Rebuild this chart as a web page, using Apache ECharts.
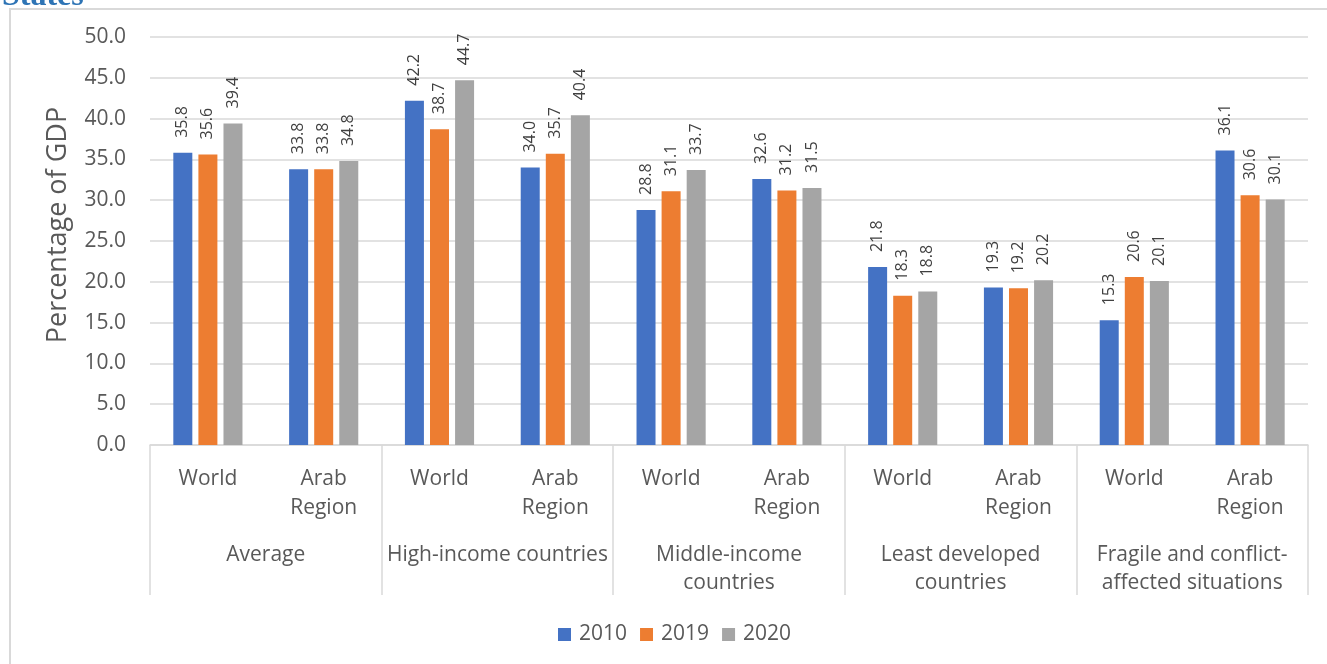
<!DOCTYPE html>
<html>
<head>
<meta charset="utf-8">
<title>Percentage of GDP</title>
<script src="https://cdn.jsdelivr.net/npm/echarts@6/dist/echarts.min.js"></script>
<style>
  html, body { margin: 0; padding: 0; background: #fff; }
  .wrap { position: relative; width: 1327px; height: 664px; overflow: hidden; }
  .frame {
    position: absolute; left: 9px; top: 8px; width: 1400px; height: 700px;
    border-left: 2px solid #d9d9d9; border-top: 2px solid #d9d9d9;
  }
  #chartBox { position: absolute; left: 0; top: 0; width: 1327px; height: 664px; }
</style>
</head>
<body>
<div class="wrap">
  <div class="frame"></div>
  <div id="chartBox"></div>
</div>
<script>
// leaf categories (two per group) and group labels
const leafLabels = [
  'World', 'Arab\nRegion', 'World', 'Arab\nRegion', 'World',
  'Arab\nRegion', 'World', 'Arab\nRegion', 'World', 'Arab\nRegion'
];
const groupLabels = [
  'Average',
  'High-income countries',
  'Middle-income\ncountries',
  'Least developed\ncountries',
  'Fragile and conflict-\naffected situations'
];
const years = ['2010', '2019', '2020'];

const v2010 = [35.8, 33.8, 42.2, 34.0, 28.8, 32.6, 21.8, 19.3, 15.3, 36.1];
const v2019 = [35.6, 33.8, 38.7, 35.7, 31.1, 31.2, 18.3, 19.2, 20.6, 30.6];
const v2020 = [39.4, 34.8, 44.7, 40.4, 33.7, 31.5, 18.8, 20.2, 20.1, 30.1];

const FONT = '"Open Sans", sans-serif';
const GREY_TXT = '#595959';

var myChart = echarts.init(document.getElementById('chartBox'));

const barSeries = (name, data) => ({
  name: name,
  type: 'bar',
  barWidth: 19,
  barGap: '32%',
  data: data,
  label: {
    show: true,
    position: 'top',
    rotate: 90,
    align: 'left',
    verticalAlign: 'middle',
    distance: 15,
    fontFamily: FONT,
    fontSize: 16,
    color: '#404040',
    formatter: p => p.value.toFixed(1)
  }
});

const option = {
  animation: false,
  color: ['#4472C4', '#ED7D31', '#A5A5A5'],
  title: {
    text: 'States',
    left: -3,
    top: -24,
    textStyle: {
      fontFamily: '"Liberation Serif", serif',
      fontWeight: 'bold',
      fontSize: 32,
      color: '#2E74B5'
    }
  },
  grid: { left: 150, right: 19, top: 37, bottom: 219 },
  legend: {
    data: years,
    top: 619,
    left: 553,
    itemWidth: 13,
    itemHeight: 13,
    itemGap: 13,
    icon: 'rect',
    textStyle: { fontFamily: FONT, fontSize: 21, color: GREY_TXT, padding: [0, 0, 0, 3] }
  },
  xAxis: [
    {
      type: 'category',
      data: leafLabels,
      axisLine: { lineStyle: { color: '#d9d9d9', width: 1.5 } },
      axisTick: { show: false },
      axisLabel: {
        interval: 0,
        margin: 20,
        lineHeight: 29,
        fontFamily: FONT,
        fontSize: 21,
        color: GREY_TXT
      }
    },
    {
      type: 'category',
      position: 'bottom',
      data: groupLabels,
      axisLine: { show: false },
      axisTick: { show: true, length: 150, lineStyle: { color: '#d9d9d9', width: 1.5 } },
      axisLabel: {
        interval: 0,
        margin: 96,
        lineHeight: 28,
        fontFamily: FONT,
        fontSize: 21,
        color: GREY_TXT
      }
    }
  ],
  yAxis: {
    type: 'value',
    min: 0,
    max: 50,
    interval: 5,
    name: 'Percentage of GDP',
    nameLocation: 'middle',
    nameGap: 78,
    nameTextStyle: { fontFamily: FONT, fontSize: 27, color: GREY_TXT, padding: [0, 0, 0, 32] },
    axisLine: { show: false },
    axisTick: { show: false },
    splitLine: { lineStyle: { color: '#d9d9d9', width: 1.5 } },
    axisLabel: {
      margin: 24,
      fontFamily: FONT,
      fontSize: 21,
      color: GREY_TXT,
      formatter: val => val.toFixed(1)
    }
  },
  series: [
    barSeries(years[0], v2010),
    barSeries(years[1], v2019),
    barSeries(years[2], v2020)
  ]
};

myChart.setOption(option, true);
</script>
</body>
</html>
